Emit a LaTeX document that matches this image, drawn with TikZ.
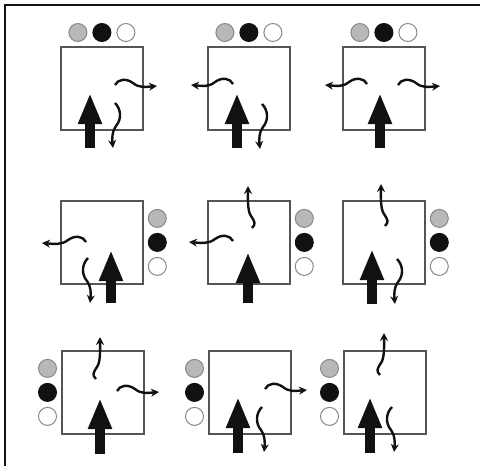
\documentclass[tikz,border=0pt]{standalone}
\usepackage{xcolor}
\usepackage{tikz}
\usetikzlibrary{arrows.meta, positioning}
\definecolor{Ink}{HTML}{111111}
\definecolor{Edge}{HTML}{555555}
\definecolor{Grey}{HTML}{B8B8B8}

\begin{document}
\begin{tikzpicture}[
  x=1pt, y=-1pt,
  cell/.style={draw=Edge, line width=1.8pt, minimum width=82pt, minimum height=83pt, inner sep=0pt, anchor=north west},
  disc/.style={circle, minimum size=18pt, inner sep=0pt, line width=1pt},
  grey disc/.style={disc, draw=Edge!70, fill=Grey},
  black disc/.style={disc, draw=Ink, fill=Ink},
  white disc/.style={disc, draw=Edge!70, fill=white},
  flow/.style={line width=9.5pt, draw=Ink, -{Triangle[length=31pt, width=22pt]}},
  wave/.style={line width=2.4pt, draw=Ink, -{Stealth[length=8pt, width=8pt]}}
]
\useasboundingbox (0,0) rectangle (480,466);
\clip (0,0) rectangle (480,466);
\draw[line width=2.5pt, draw=Ink] (5,480) -- (5,5) -- (490,5);

% top row: discs above
\node[cell] (c11) at (60,46) {};
\node[cell] (c12) at (207,46) {};
\node[cell] (c13) at (342,46) {};
\foreach \c in {11,12,13} {
  \node[black disc] (k\c) [above=4pt of c\c] {};
  \node[grey disc] (g\c) [left=5pt of k\c] {};
  \node[white disc] (w\c) [right=5pt of k\c] {};
}

% middle row: discs to the right
\node[cell] (c21) at (60,200) {};
\node[cell] (c22) at (207,200) {};
\node[cell] (c23) at (342,200) {};
\foreach \c in {21,22,23} {
  \node[black disc] (k\c) [right=4pt of c\c] {};
  \node[grey disc] (g\c) [above=5pt of k\c] {};
  \node[white disc] (w\c) [below=5pt of k\c] {};
}

% bottom row: discs to the left
\node[cell] (c31) at (61,350) {};
\node[cell] (c32) at (208,350) {};
\node[cell] (c33) at (343,350) {};
\foreach \c in {31,32,33} {
  \node[black disc] (k\c) [left=4pt of c\c] {};
  \node[grey disc] (g\c) [above=5pt of k\c] {};
  \node[white disc] (w\c) [below=5pt of k\c] {};
}

\begin{scope}[shift={(c11.north west)}]
  \draw[flow] (30,102) -- (30,47);
  \draw[wave] (55,57) .. controls +(6,6) and +(6,-7) .. ++(1,23) .. controls +(-4,5) and +(-1,-9) .. ++(-3,22);
  \draw[wave] (55,39) .. controls +(3,-6) and +(-7,-5) .. ++(18,-2) .. controls +(6,5) and +(-12,1) .. ++(24,3);
\end{scope}
\begin{scope}[shift={(c12.north west)}]
  \draw[flow] (30,102) -- (30,47);
  \draw[wave] (55,58) .. controls +(6,6) and +(6,-7) .. ++(1,23) .. controls +(-4,5) and +(-1,-9) .. ++(-3,22);
  \draw[wave] (26,38) .. controls +(-3,-6) and +(7,-5) .. ++(-18,-2) .. controls +(-6,5) and +(12,1) .. ++(-24,3);
\end{scope}
\begin{scope}[shift={(c13.north west)}]
  \draw[flow] (38,102) -- (38,47);
  \draw[wave] (25,38) .. controls +(-3,-6) and +(7,-5) .. ++(-18,-2) .. controls +(-6,5) and +(12,1) .. ++(-24,3);
  \draw[wave] (56,39) .. controls +(3,-6) and +(-7,-5) .. ++(18,-2) .. controls +(6,5) and +(-12,1) .. ++(24,3);
\end{scope}

\begin{scope}[shift={(c21.north west)}]
  \draw[flow] (51,103) -- (51,50);
  \draw[wave] (28,58) .. controls +(-6,6) and +(-6,-7) .. ++(-1,23) .. controls +(4,5) and +(1,-9) .. ++(3,22);
  \draw[wave] (26,42) .. controls +(-3,-6) and +(7,-5) .. ++(-18,-2) .. controls +(-6,5) and +(12,1) .. ++(-26,3);
\end{scope}
\begin{scope}[shift={(c22.north west)}]
  \draw[flow] (41,103) -- (41,52);
  \draw[wave] (45,28) .. controls +(4,-4) and +(4,6) .. ++(-1,-12) .. controls +(-4,-5) and +(0,8) .. ++(-3,-30);
  \draw[wave] (26,41) .. controls +(-3,-6) and +(7,-5) .. ++(-18,-2) .. controls +(-6,5) and +(12,1) .. ++(-26,3);
\end{scope}
\begin{scope}[shift={(c23.north west)}]
  \draw[flow] (30,104) -- (30,49);
  \draw[wave] (43,26) .. controls +(4,-4) and +(4,6) .. ++(-1,-12) .. controls +(-4,-5) and +(0,8) .. ++(-3,-30);
  \draw[wave] (55,59) .. controls +(6,6) and +(6,-7) .. ++(1,23) .. controls +(-4,5) and +(-1,-9) .. ++(-3,22);
\end{scope}

\begin{scope}[shift={(c31.north west)}]
  \draw[flow] (39,104) -- (39,48);
  \draw[wave] (35,29) .. controls +(-4,-4) and +(-4,6) .. ++(1,-12) .. controls +(4,-5) and +(0,8) .. ++(3,-30);
  \draw[wave] (56,41) .. controls +(3,-6) and +(-7,-5) .. ++(18,-2) .. controls +(6,5) and +(-12,1) .. ++(24,3);
\end{scope}
\begin{scope}[shift={(c32.north west)}]
  \draw[flow] (30,103) -- (30,47);
  \draw[wave] (54,57) .. controls +(-6,6) and +(-6,-7) .. ++(-1,23) .. controls +(4,5) and +(1,-9) .. ++(3,22);
  \draw[wave] (57,39) .. controls +(3,-6) and +(-7,-5) .. ++(18,-2) .. controls +(6,5) and +(-12,1) .. ++(24,3);
\end{scope}
\begin{scope}[shift={(c33.north west)}]
  \draw[flow] (27,103) -- (27,47);
  \draw[wave] (37,25) .. controls +(-4,-4) and +(-4,6) .. ++(1,-12) .. controls +(4,-5) and +(0,8) .. ++(3,-30);
  \draw[wave] (49,57) .. controls +(-6,6) and +(-6,-7) .. ++(-1,23) .. controls +(4,5) and +(1,-9) .. ++(3,22);
\end{scope}
\end{tikzpicture}
\end{document}
